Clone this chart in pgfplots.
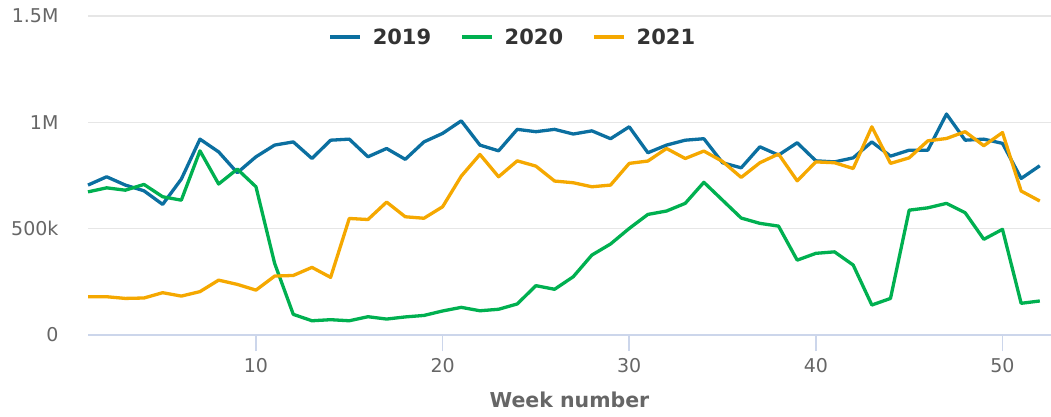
\documentclass[border=0pt]{standalone}
\usepackage{pgfplots}
\pgfplotsset{compat=1.18}
\usepackage{fontspec}
\setmainfont{DejaVu Sans}
\definecolor{c19}{HTML}{0B6FA0}
\definecolor{c20}{HTML}{00B050}
\definecolor{c21}{HTML}{F5A800}
\definecolor{gridc}{HTML}{E6E6E6}
\definecolor{axc}{HTML}{CCD6EB}
\definecolor{labc}{HTML}{666666}
\definecolor{legc}{HTML}{333333}
\begin{document}
\begin{tikzpicture}[x=1pt,y=1pt]
\useasboundingbox (0,0) rectangle (1051,416);
\begin{axis}[
  at={(88pt,81pt)}, anchor=south west,
  scale only axis, width=963pt, height=319pt,
  xmin=1, xmax=52.6, ymin=0, ymax=1500000,
  axis lines*=left,
  axis line style={draw=none},
  xtick={10,20,30,40,50},
  ytick={0,500000,1000000,1500000},
  yticklabels={0,500k,1M,1.5M},
  scaled y ticks=false,
  ymajorgrids, grid style={gridc, line width=1.5pt},
  x tick style={axc, line width=1.5pt},
  y tick style={draw=none},
  major tick length=16pt,
  tick align=outside,
  /pgf/number format/assume math mode=true,
  ticklabel style={font=\fontsize{19}{22}\selectfont, text=labc},
  xticklabel style={yshift=-4pt},
  yticklabel style={xshift=-10pt},
  xlabel={\textbf{Week number}},
  xlabel style={font=\fontsize{20.5}{24}\selectfont, text=labc, yshift=-12pt},
  legend style={at={(0.441,0.934)}, anchor=center, draw=none, fill=none,
    legend columns=3, font=\fontsize{21}{24}\selectfont\bfseries, text=legc,
    /tikz/every odd column/.append style={column sep=9pt},
    /tikz/every even column/.append style={column sep=27pt}},
  legend image code/.code={\draw[#1, line width=3.5pt] (0pt,0pt) -- (30pt,0pt);},
  every axis plot/.append style={line width=3.3pt, line join=round, mark=none},
  clip=false,
]
\draw[axc, line width=1.5pt] (axis cs:1,0) -- (axis cs:52.6,0);
\addplot[c19] coordinates {
(1,705000)(2,744000)(3,705000)(4,678000)(5,614000)(6,733000)(7,921000)(8,861000)(9,763000)(10,838000)
(11,893000)(12,908000)(13,830000)(14,916000)(15,921000)(16,838000)(17,877000)(18,826000)(19,908000)(20,948000)
(21,1007000)(22,893000)(23,866000)(24,967000)(25,956000)(26,967000)(27,945000)(28,960000)(29,923000)(30,979000)
(31,857000)(32,893000)(33,916000)(34,923000)(35,810000)(36,786000)(37,885000)(38,846000)(39,904000)(40,819000)
(41,814000)(42,833000)(43,908000)(44,841000)(45,869000)(46,869000)(47,1039000)(48,916000)(49,921000)(50,901000)
(51,736000)(52,796000)};
\addlegendentry{2019}
\addplot[c20] coordinates {
(1,673000)(2,692000)(3,681000)(4,708000)(5,650000)(6,634000)(7,866000)(8,710000)(9,780000)(10,697000)
(11,337000)(12,97000)(13,67000)(14,72000)(15,67000)(16,86000)(17,75000)(18,85000)(19,92000)(20,113000)
(21,130000)(22,114000)(23,121000)(24,146000)(25,232000)(26,215000)(27,274000)(28,376000)(29,428000)(30,501000)
(31,567000)(32,583000)(33,619000)(34,718000)(35,634000)(36,550000)(37,525000)(38,512000)(39,352000)(40,384000)
(41,391000)(42,329000)(43,141000)(44,172000)(45,587000)(46,598000)(47,619000)(48,575000)(49,450000)(50,497000)
(51,149000)(52,160000)};
\addlegendentry{2020}
\addplot[c21] coordinates {
(1,180000)(2,180000)(3,172000)(4,174000)(5,199000)(6,183000)(7,204000)(8,258000)(9,238000)(10,211000)
(11,277000)(12,280000)(13,318000)(14,271000)(15,548000)(16,543000)(17,625000)(18,556000)(19,549000)(20,603000)
(21,747000)(22,849000)(23,744000)(24,819000)(25,794000)(26,724000)(27,716000)(28,697000)(29,705000)(30,807000)
(31,818000)(32,877000)(33,830000)(34,865000)(35,816000)(36,741000)(37,810000)(38,851000)(39,725000)(40,814000)
(41,810000)(42,783000)(43,979000)(44,807000)(45,833000)(46,913000)(47,924000)(48,956000)(49,890000)(50,952000)
(51,677000)(52,630000)};
\addlegendentry{2021}
\end{axis}
\end{tikzpicture}
\end{document}
